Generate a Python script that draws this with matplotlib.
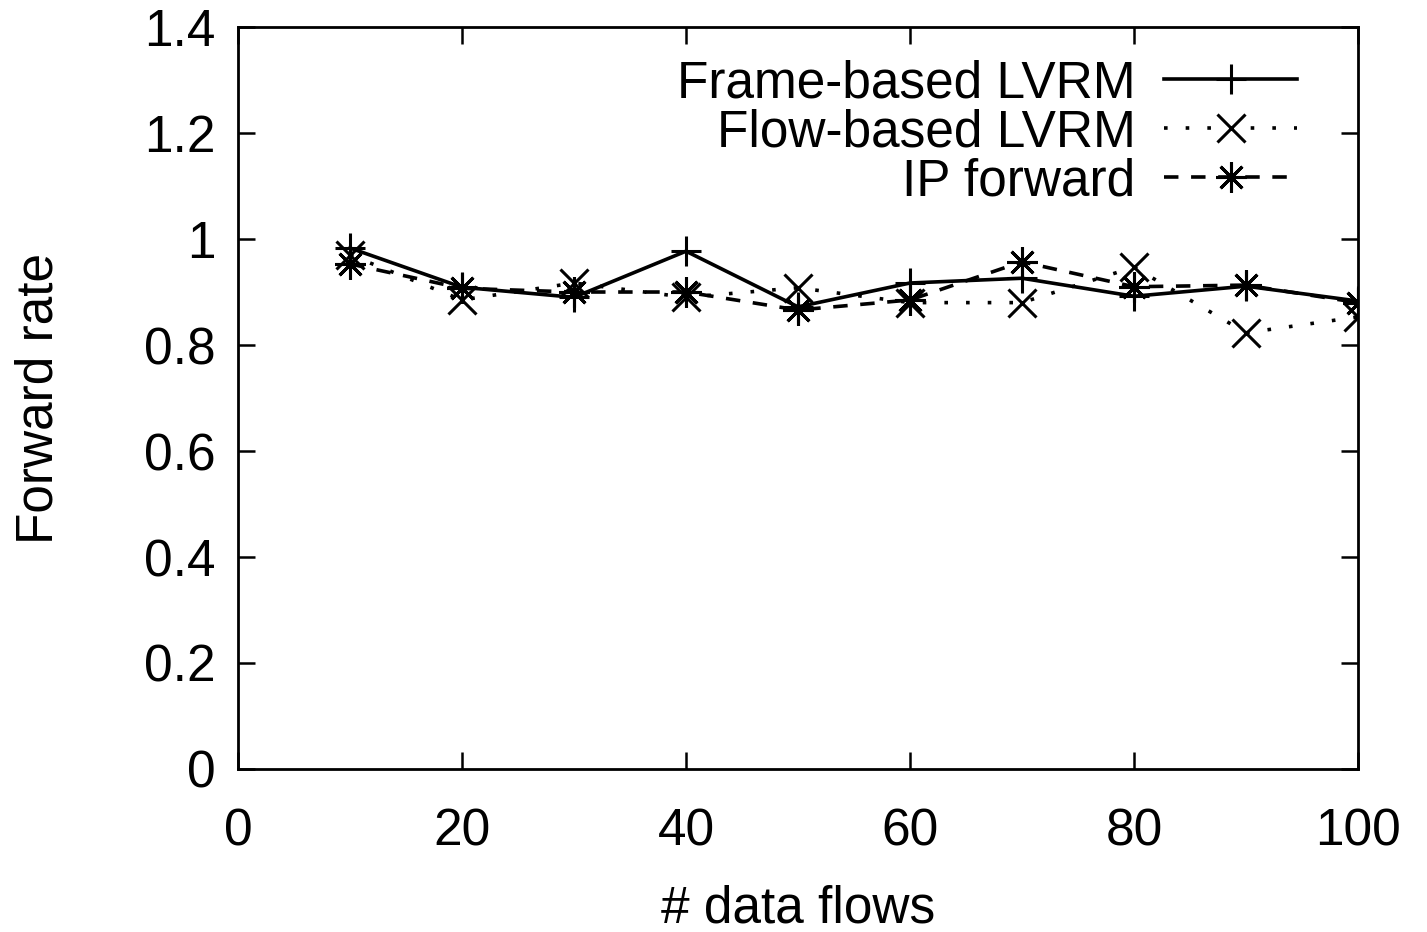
import matplotlib
matplotlib.use("Agg")
import matplotlib.pyplot as plt

plt.rcParams['font.family'] = ['Liberation Sans', 'DejaVu Sans']

flows = [10, 20, 30, 40, 50, 60, 70, 80, 90, 100]
frame_based = [0.983, 0.909, 0.890, 0.977, 0.872, 0.917, 0.926, 0.892, 0.911, 0.883]
flow_based = [0.970, 0.885, 0.917, 0.890, 0.908, 0.880, 0.880, 0.947, 0.823, 0.853]
ip_forward = [0.953, 0.907, 0.900, 0.900, 0.866, 0.885, 0.957, 0.910, 0.913, 0.880]

fig = plt.figure(figsize=(14.27, 9.32), dpi=100)
ax = fig.add_axes([0.1668, 0.1749, 0.7848, 0.7961])

ax.plot(flows, frame_based, color='black', lw=2.6, ls='-', marker='+',
        ms=22, mew=2.2, label='Frame-based LVRM')
ax.plot(flows, flow_based, color='black', lw=2.6, ls=(0, (1, 5)), marker='x',
        ms=20, mew=2.2, label='Flow-based LVRM')
ax.plot(flows, ip_forward, color='black', lw=2.6, ls=(0, (4, 3.5)), marker=(8, 2, 0),
        ms=22, mew=2.2, label='IP forward')

ax.set_xlim(0, 100)
ax.set_ylim(0, 1.4)
ax.set_xticks([0, 20, 40, 60, 80, 100])
ax.set_yticks([0, 0.2, 0.4, 0.6, 0.8, 1, 1.2, 1.4])
ax.set_yticklabels(['0', '0.2', '0.4', '0.6', '0.8', '1', '1.2', '1.4'])
ax.tick_params(direction='in', length=12, width=1.8, labelsize=37,
               top=True, right=True)
ax.tick_params(axis='x', pad=28)
ax.tick_params(axis='y', pad=16)
for s in ax.spines.values():
    s.set_linewidth(2)

ax.set_xlabel('# data flows', fontsize=37, labelpad=20)
ax.set_ylabel('Forward rate', fontsize=37, labelpad=58)

leg = ax.legend(loc='upper right', frameon=False, markerfirst=False, fontsize=37,
                handlelength=2.6, handletextpad=0.55, labelspacing=0.0,
                borderaxespad=0.3, bbox_to_anchor=(0.978, 1.005))

fig.savefig('out.png', dpi=100)
